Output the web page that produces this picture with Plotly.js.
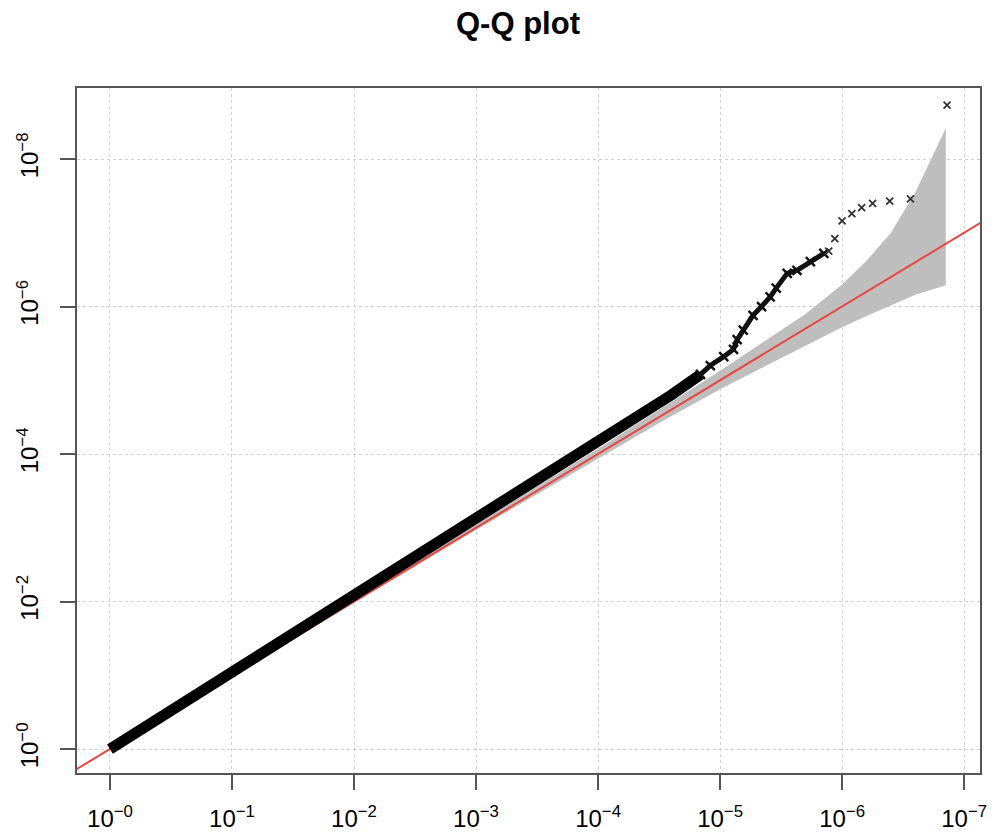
<!DOCTYPE html>
<html>
<head>
<meta charset="utf-8">
<script src="https://cdn.plot.ly/plotly-3.0.1.min.js"></script>
<style>html,body{margin:0;padding:0;background:#fff;}#chart{width:995px;height:832px;}</style>
</head>
<body>
<div id="chart"></div>
<script>
const bodyExpected = [0, 0.5, 1.0, 1.5, 2.0, 2.5, 3.0, 3.5, 3.8, 4.0, 4.3, 4.6, 4.84];
const bodyObserved = [0, 0.52, 1.03, 1.55, 2.06, 2.6, 3.12, 3.62, 3.95, 4.16, 4.47, 4.80, 5.08];

const midExpected = [4.84, 4.92, 5.03, 5.11, 5.14, 5.19, 5.27, 5.34, 5.41, 5.46, 5.55, 5.63, 5.74, 5.85];
const midObserved = [5.08, 5.20, 5.32, 5.42, 5.55, 5.68, 5.88, 6.00, 6.13, 6.25, 6.45, 6.49, 6.61, 6.72];

const tailExpected = [5.89, 5.94, 6.00, 6.08, 6.16, 6.25, 6.39, 6.56, 6.86];
const tailObserved = [6.75, 6.92, 7.16, 7.26, 7.34, 7.40, 7.43, 7.46, 8.73];

// confidence band
const bandX     = [0, 1, 2, 3, 3.5, 4.0, 4.5, 5.0, 5.4, 5.7, 6.0, 6.2, 6.4, 6.6, 6.85];
const bandLower = [0, 0.99, 1.98, 2.97, 3.46, 3.94, 4.42, 4.88, 5.22, 5.47, 5.72, 5.87, 6.02, 6.16, 6.29];
const bandUpper = [0, 1.01, 2.03, 3.04, 3.56, 4.07, 4.60, 5.13, 5.57, 5.90, 6.30, 6.62, 7.00, 7.55, 8.42];

// reference line y = x
const refLine = [-0.5, 7.5];

const xTickVals = [0, 1, 2, 3, 4, 5, 6, 7];
const xTickText = ["10<sup>−0</sup>", "10<sup>−1</sup>", "10<sup>−2</sup>", "10<sup>−3</sup>", "10<sup>−4</sup>", "10<sup>−5</sup>", "10<sup>−6</sup>", "10<sup>−7</sup>"];
const yTickVals = [0, 2, 4, 6, 8];
const yTickText = ["10<sup>−0</sup>", "10<sup>−2</sup>", "10<sup>−4</sup>", "10<sup>−6</sup>", "10<sup>−8</sup>"];

const bandTrace = {
  x: bandX.concat(bandX.slice().reverse()),
  y: bandUpper.concat(bandLower.slice().reverse()),
  mode: 'lines', fill: 'toself', fillcolor: '#bebebe',
  line: {width: 0, color: '#bebebe'}, hoverinfo: 'skip', showlegend: false
};
const refTrace = {
  x: refLine, y: refLine, mode: 'lines',
  line: {color: '#e8453f', width: 2}, showlegend: false
};
const bodyTrace = {
  x: bodyExpected, y: bodyObserved, mode: 'lines',
  line: {color: '#000', width: 11}, showlegend: false
};
const midTrace = {
  x: midExpected, y: midObserved, mode: 'lines+markers',
  line: {color: '#111', width: 5},
  marker: {symbol: 'x-thin-open', size: 9, color: '#111', line: {color: '#111', width: 2.5}},
  showlegend: false
};
const tailTrace = {
  x: tailExpected, y: tailObserved, mode: 'markers',
  marker: {symbol: 'x-thin-open', size: 7, color: '#333', line: {color: '#333', width: 1.8}},
  showlegend: false
};

const axisCommon = {
  showline: true, mirror: true, linecolor: '#555', linewidth: 2,
  ticks: 'outside', ticklen: 15, tickwidth: 2, tickcolor: '#555',
  showgrid: true, gridcolor: '#d0d0d0', gridwidth: 1, griddash: 'dot',
  zeroline: false, tickmode: 'array',
  tickfont: {family: 'Liberation Sans, Arial, sans-serif', size: 24, color: '#000'}
};

const layout = {
  width: 995, height: 832,
  margin: {l: 77, r: 15, t: 88, b: 59},
  paper_bgcolor: '#fff', plot_bgcolor: '#fff',
  title: {text: '<b>Q-Q plot</b>', x: 0.5206, xref: 'container', xanchor: 'center',
          y: 0.972, yref: 'container', yanchor: 'middle',
          font: {family: 'Liberation Sans, Arial, sans-serif', size: 31, color: '#000'}},
  xaxis: Object.assign({}, axisCommon, {range: [-0.27, 7.13], tickvals: xTickVals, ticktext: xTickText, ticklabelstandoff: 8}),
  yaxis: Object.assign({}, axisCommon, {range: [-0.325, 8.963], tickvals: yTickVals, ticktext: yTickText, tickangle: -90, ticklabelstandoff: 12}),
  showlegend: false
};

Plotly.newPlot('chart', [bandTrace, refTrace, bodyTrace, midTrace, tailTrace], layout, {displayModeBar: false, staticPlot: true});
</script>
</body>
</html>
